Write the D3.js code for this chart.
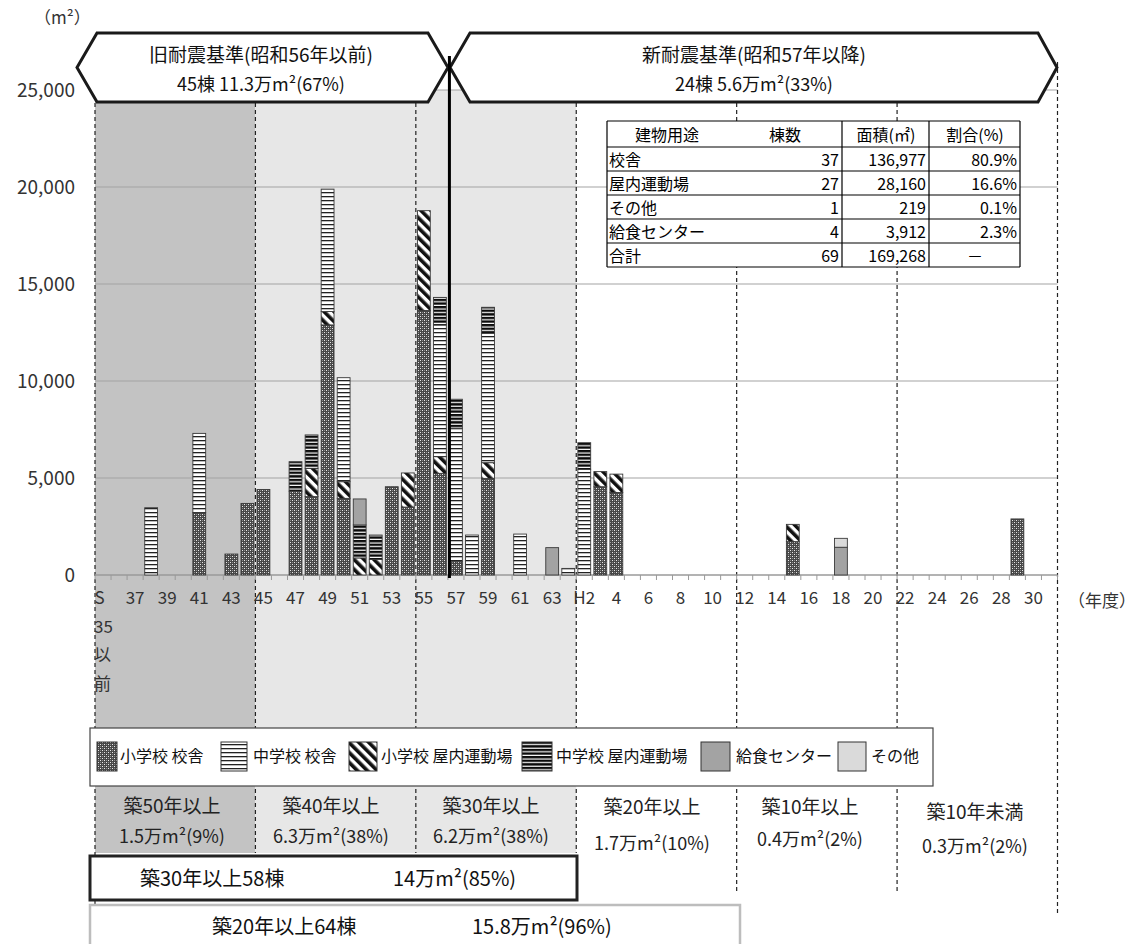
<!DOCTYPE html>
<html><head><meta charset="utf-8">
<script src="https://cdn.jsdelivr.net/npm/d3@7"></script>
<style>
body{margin:0;background:#fff}
text{font-family:"Noto Sans CJK JP","Noto Sans",sans-serif}
</style>
</head><body>
<svg id="c" width="1139" height="944"></svg>
<script>
// ---------------- data ----------------
const categories = ["S35以前","S36","S37","S38","S39","S40","S41","S42","S43","S44",
  "S45","S46","S47","S48","S49","S50","S51","S52","S53","S54",
  "S55","S56","S57","S58","S59","S60","S61","S62","S63","H1",
  "H2","H3","H4","H5","H6","H7","H8","H9","H10","H11",
  "H12","H13","H14","H15","H16","H17","H18","H19","H20","H21",
  "H22","H23","H24","H25","H26","H27","H28","H29","H30","H31"];
const tickCats  = ["S35以前","S37","S39","S41","S43","S45","S47","S49","S51","S53","S55","S57","S59","S61","S63",
  "H2","H4","H6","H8","H10","H12","H14","H16","H18","H20","H22","H24","H26","H28","H30"];
const tickTexts = ["S","37","39","41","43","45","47","49","51","53","55","57","59","61","63",
  "H2","4","6","8","10","12","14","16","18","20","22","24","26","28","30"];
const firstTickExtra = ["35","以","前"];
const yTicks = [0,5000,10000,15000,20000,25000];

const seriesKeys  = ["elemSchool","elemGym","juniorSchool","juniorGym","lunch","other"]; // stack order
const legendKeys  = ["elemSchool","juniorSchool","elemGym","juniorGym","lunch","other"];
const legendNames = ["小学校 校舎","中学校 校舎","小学校 屋内運動場","中学校 屋内運動場","給食センター","その他"];

const elemSchool = [["S41",3210],["S43",1080],["S44",3690],["S45",4410],["S47",4320],["S48",4040],["S49",12890],
  ["S50",3950],["S53",4550],["S54",3500],["S55",13630],["S56",5240],["S57",690],["S59",4980],
  ["H3",4550],["H4",4250],["H15",1720],["H29",2890]];
const elemGym = [["S48",1460],["S49",690],["S50",860],["S51",880],["S52",810],["S54",1760],["S55",5150],
  ["S56",860],["S59",810],["H3",780],["H4",950],["H15",890]];
const juniorSchool = [["S38",3470],["S41",4090],["S49",6310],["S50",5360],["S56",6790],["S57",6870],
  ["S58",2060],["S59",6670],["S61",2110],["H1",340],["H2",5450]];
const juniorGym = [["S47",1520],["S48",1720],["S51",1700],["S52",1250],["S56",1420],["S57",1500],["S59",1340],["H2",1370]];
const lunch = [["S51",1340],["S63",1410],["H18",1430]];
const other = [["H18",460]];

const tableHeader = ["建物用途","棟数","面積(㎡)","割合(%)"];
const tableUses   = ["校舎","屋内運動場","その他","給食センター","合計"];
const tableCounts = ["37","27","1","4","69"];
const tableAreas  = ["136,977","28,160","219","3,912","169,268"];
const tableShares = ["80.9%","16.6%","0.1%","2.3%","－"];

const bannerOld = ["旧耐震基準(昭和56年以前)","45棟 11.3万m²(67%)"];
const bannerNew = ["新耐震基準(昭和57年以降)","24棟 5.6万m²(33%)"];
const ageTitles = ["築50年以上","築40年以上","築30年以上","築20年以上","築10年以上","築10年未満"];
const ageValues = ["1.5万m²(9%)","6.3万m²(38%)","6.2万m²(38%)","1.7万m²(10%)","0.4万m²(2%)","0.3万m²(2%)"];
const sum30 = ["築30年以上58棟","14万m²(85%)"];
const sum20 = ["築20年以上64棟","15.8万m²(96%)"];

// ---------------- build table ----------------
const seriesData = {elemSchool, elemGym, juniorSchool, juniorGym, lunch, other};
const rows = categories.map(c => {
  const r = {cat:c};
  seriesKeys.forEach(k => { const f = seriesData[k].find(d => d[0]===c); r[k] = f ? f[1] : 0; });
  return r;
});

// ---------------- chart ----------------
const svg = d3.select("#c");
const X0 = 95, X1 = 1057.5, Y0 = 575;
const x = d3.scaleBand().domain(categories).range([X0, X1]).paddingInner(0.2).paddingOuter(0.1);
const step = x.step();
const bx = i => X0 + i*step;           // category boundary
const y = d3.scaleLinear().domain([0,25000]).range([Y0, 90]);

// patterns
const defs = svg.append("defs");
let p = defs.append("pattern").attr("id","p-elemSchool").attr("patternUnits","userSpaceOnUse").attr("width",4).attr("height",4);
p.append("rect").attr("width",4).attr("height",4).attr("fill","#474747");
p.append("rect").attr("x",0).attr("y",0).attr("width",1).attr("height",1).attr("fill","#e8e8e8");
p.append("rect").attr("x",2).attr("y",2).attr("width",1).attr("height",1).attr("fill","#e8e8e8");
p.append("rect").attr("x",2).attr("y",0).attr("width",1).attr("height",1).attr("fill","#8a8a8a");
p.append("rect").attr("x",0).attr("y",2).attr("width",1).attr("height",1).attr("fill","#8a8a8a");
p = defs.append("pattern").attr("id","p-juniorSchool").attr("patternUnits","userSpaceOnUse").attr("width",6).attr("height",4);
p.append("rect").attr("width",6).attr("height",4).attr("fill","#fff");
p.append("rect").attr("y",0).attr("width",6).attr("height",1.3).attr("fill","#222");
p = defs.append("pattern").attr("id","p-elemGym").attr("patternUnits","userSpaceOnUse").attr("width",7).attr("height",7).attr("patternTransform","rotate(-45)");
p.append("rect").attr("width",7).attr("height",7).attr("fill","#fff");
p.append("rect").attr("width",3.6).attr("height",7).attr("fill","#111");
p = defs.append("pattern").attr("id","p-juniorGym").attr("patternUnits","userSpaceOnUse").attr("width",6).attr("height",3.6);
p.append("rect").attr("width",6).attr("height",3.6).attr("fill","#fff");
p.append("rect").attr("y",0).attr("width",6).attr("height",2.4).attr("fill","#0a0a0a");
const fills = {elemSchool:"url(#p-elemSchool)",juniorSchool:"url(#p-juniorSchool)",elemGym:"url(#p-elemGym)",
  juniorGym:"url(#p-juniorGym)",lunch:"#a3a3a3",other:"#dadada"};

// background shading
svg.append("rect").attr("x",bx(0)).attr("y",y(25000)).attr("width",bx(10)-bx(0)).attr("height",853-y(25000)).attr("fill","#c3c3c3");
svg.append("rect").attr("x",bx(10)).attr("y",y(25000)).attr("width",bx(30)-bx(10)).attr("height",853-y(25000)).attr("fill","#e7e7e7");

// gridlines
svg.append("g").selectAll("line").data(yTicks.filter(v=>v>0)).join("line")
  .attr("x1",X0).attr("x2",X1).attr("y1",d=>y(d)).attr("y2",d=>y(d))
  .attr("stroke","#a3a3a3").attr("stroke-width",1.2);

// dashed period lines
const dashSpec = [[0,103,944],[10,103,853],[20,103,853],[30,103,853],[40,103,892],[50,103,892],[60,62,915]];
svg.append("g").selectAll("line").data(dashSpec).join("line")
  .attr("x1",d=>bx(d[0])).attr("x2",d=>bx(d[0])).attr("y1",d=>d[1]).attr("y2",d=>d[2])
  .attr("stroke","#222").attr("stroke-width",1.2).attr("stroke-dasharray","4,3");

// y axis
const yAxis = svg.append("g").attr("transform","translate(78,0)")
  .call(d3.axisLeft(y).tickValues(yTicks).tickSize(0).tickPadding(3).tickFormat(d3.format(",")));
yAxis.select(".domain").remove();
yAxis.selectAll("text").attr("font-size",19).attr("fill","#333").attr("font-family","'Noto Sans CJK JP'");
svg.append("text").attr("x",34).attr("y",24).attr("font-size",17).attr("fill","#333").text("（m²）");

// x axis line and ticks
svg.append("line").attr("x1",X0).attr("x2",X1).attr("y1",Y0).attr("y2",Y0).attr("stroke","#9a9a9a").attr("stroke-width",1.5);
svg.append("g").selectAll("line").data(d3.range(61)).join("line")
  .attr("x1",d=>bx(d)).attr("x2",d=>bx(d)).attr("y1",Y0).attr("y2",Y0+5).attr("stroke","#9a9a9a");

// bars
const stack = d3.stack().keys(seriesKeys)(rows);
svg.append("g").selectAll("g").data(stack).join("g")
  .attr("fill", s => fills[s.key])
  .selectAll("rect").data(s => s.filter(d => d[1]-d[0] > 0)).join("rect")
  .attr("x", d => x(d.data.cat)).attr("width", x.bandwidth())
  .attr("y", d => y(d[1])).attr("height", d => y(d[0]) - y(d[1]))
  .attr("stroke","#3a3a3a").attr("stroke-width",0.9);

// x tick labels
const xAxis = svg.append("g").attr("transform",`translate(0,${Y0})`)
  .call(d3.axisBottom(x).tickValues(tickCats).tickSize(0).tickPadding(17).tickFormat((d,i)=>tickTexts[i]));
xAxis.select(".domain").remove();
xAxis.selectAll("text").attr("font-size",17).attr("fill","#333");
xAxis.selectAll("text").filter((d,i)=>i===0).attr("text-anchor","start").attr("x",-x.bandwidth()/2-2);
svg.append("g").selectAll("text").data(firstTickExtra).join("text")
  .attr("x",bx(0)-1).attr("y",(d,i)=>[633,661,690][i]).attr("font-size",17).attr("fill","#333").text(d=>d);
svg.append("text").attr("x",1068).attr("y",607).attr("font-size",17).attr("fill","#333").text("（年度）");

// banners
function banner(pts, lines, cx){
  svg.append("polygon").attr("points",pts.map(p=>p.join(",")).join(" "))
    .attr("fill","#fff").attr("stroke","#1a1a1a").attr("stroke-width",3).attr("stroke-linejoin","miter");
  svg.append("text").attr("x",cx).attr("y",62).attr("text-anchor","middle").attr("font-size",19).attr("fill","#111").text(lines[0]);
  svg.append("text").attr("x",cx).attr("y",91).attr("text-anchor","middle").attr("font-size",18).attr("fill","#111").text(lines[1]);
}
banner([[77,67.5],[97,33],[428,33],[448,67.5],[428,102],[97,102]], bannerOld, 261);
banner([[450,67.5],[470,33],[1038,33],[1057,67.5],[1038,102],[470,102]], bannerNew, 754);

// S56/S57 divider
svg.append("line").attr("x1",bx(22)+1.5).attr("x2",bx(22)+1.5).attr("y1",56).attr("y2",578)
  .attr("stroke","#000").attr("stroke-width",3);

// table
const tL=607, tR=1020, tTop=121;
const rowLines = [121,147,171,195,219,243,267];
const colLines = [607,842,929,1020];
svg.append("rect").attr("x",tL).attr("y",tTop).attr("width",tR-tL).attr("height",rowLines[6]-tTop).attr("fill","#fff");
svg.append("g").selectAll("line").data(rowLines).join("line")
  .attr("x1",tL).attr("x2",tR).attr("y1",d=>d).attr("y2",d=>d).attr("stroke","#000").attr("stroke-width",1.2);
svg.append("g").selectAll("line").data(colLines).join("line")
  .attr("x1",d=>d).attr("x2",d=>d).attr("y1",tTop).attr("y2",rowLines[6]).attr("stroke","#000").attr("stroke-width",1.2);
const hdrX = [667,785,886,975];
svg.append("g").selectAll("text").data(tableHeader).join("text")
  .attr("x",(d,i)=>hdrX[i]).attr("y",141).attr("text-anchor","middle").attr("font-size",16).attr("fill","#000").text(d=>d);
const tableCols = [[tableUses,609,"start"],[tableCounts,839,"end"],[tableAreas,926,"end"],[tableShares,1017,"end"]];
tableCols.forEach(([arr,tx,anc],ci)=>{
  svg.append("g").selectAll("text").data(arr).join("text")
    .attr("x",(d,i)=> (ci===3 && i===4) ? 975 : tx)
    .attr("text-anchor",(d,i)=> (ci===3 && i===4) ? "middle" : anc)
    .attr("y",(d,i)=>rowLines[i+2]-5).attr("font-size",16).attr("fill","#000").text(d=>d);
});

// legend
svg.append("rect").attr("x",90).attr("y",728).attr("width",843).attr("height",58).attr("fill","#fff").attr("stroke","#444").attr("stroke-width",1.2);
const legSw = [97,221,349,522,701,838];
const legSwW = [20,26,28,30,29,28];
const legTx = [120,253,381,556,736,871];
legendKeys.forEach((k,i)=>{
  svg.append("rect").attr("x",legSw[i]).attr("y",742).attr("width",legSwW[i]).attr("height",29)
    .attr("fill",fills[k]).attr("stroke","#333").attr("stroke-width",1);
  svg.append("text").attr("x",legTx[i]).attr("y",762).attr("font-size",16).attr("fill","#111").text(legendNames[i]);
});

// age group labels
const ageX = [172,331,491,652,810,975];
const ageY1 = [813,813,813,814,814,819];
const ageY2 = [843,843,843,850,846,853];
ageTitles.forEach((t,i)=>{
  svg.append("text").attr("x",ageX[i]).attr("y",ageY1[i]).attr("text-anchor","middle").attr("font-size",19).attr("fill","#222").text(t);
  svg.append("text").attr("x",ageX[i]).attr("y",ageY2[i]).attr("text-anchor","middle").attr("font-size",18).attr("fill","#222").text(ageValues[i]);
});

// summary boxes
svg.append("rect").attr("x",90).attr("y",905).attr("width",650).attr("height",50).attr("fill","#fff").attr("stroke","#bdbdbd").attr("stroke-width",2.5);
svg.append("text").attr("x",212).attr("y",934).attr("font-size",20).attr("fill","#111").text(sum20[0]);
svg.append("text").attr("x",472).attr("y",934).attr("font-size",20).attr("fill","#111").text(sum20[1]);
svg.append("rect").attr("x",90).attr("y",856).attr("width",487).attr("height",44).attr("fill","#fff").attr("stroke","#222").attr("stroke-width",3);
svg.append("text").attr("x",140).attr("y",886).attr("font-size",20).attr("fill","#111").text(sum30[0]);
svg.append("text").attr("x",393).attr("y",886).attr("font-size",20).attr("fill","#111").text(sum30[1]);
</script>
</body></html>
